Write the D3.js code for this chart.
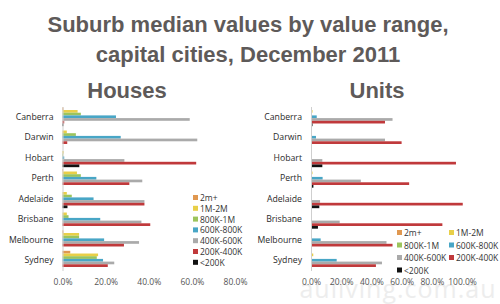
<!DOCTYPE html>
<html>
<head>
<meta charset="utf-8">
<script src="https://cdn.jsdelivr.net/npm/d3@7"></script>
<style>
  body { margin: 0; background: #fff; }
  svg { display: block; }
</style>
</head>
<body>
<div id="chart"></div>
<script>
// Categories and series
const cities = ["Canberra", "Darwin", "Hobart", "Perth", "Adelaide", "Brisbane", "Melbourne", "Sydney"];
const ranges = ["2m+", "1M-2M", "800K-1M", "600K-800K", "400K-600K", "200K-400K", "<200K"];
const rangeColors = ["#e09850", "#e8cf48", "#9cc45c", "#48a6c6", "#aaaaaa", "#c0393b", "#111111"];

// Houses, % of suburbs per range (city order as above)
const houses2mPlus = [0.4, 0, 0, 0.3, 0, 0, 0.4, 3.6];
const houses1m2m = [7.0, 2.0, 0.5, 6.7, 2.0, 2.0, 7.7, 16.5];
const houses800k1m = [8.5, 6.2, 0.3, 8.5, 4.3, 2.8, 7.7, 15.9];
const houses600k800k = [24.8, 27.0, 0.8, 15.7, 14.4, 17.5, 19.3, 18.8];
const houses400k600k = [59.0, 62.5, 28.7, 37.0, 38.0, 36.6, 35.5, 24.0];
const houses200k400k = [0.8, 2.2, 62.0, 31.0, 38.0, 40.7, 28.5, 21.0];
const housesUnder200k = [0.4, 0, 7.8, 0, 2.3, 0, 0, 0];

// Units
const units2mPlus = [0, 0, 0, 0, 0, 0, 0, 0];
const units1m2m = [1.0, 0, 0, 1.0, 0, 0, 0, 1.5];
const units800k1m = [0.3, 0, 0, 0.3, 0, 0, 0, 0.5];
const units600k800k = [3.8, 3.3, 0, 7.7, 0, 0, 6.4, 17.0];
const units400k600k = [54.0, 49.0, 7.5, 33.0, 6.0, 19.0, 50.0, 47.0];
const units200k400k = [49.0, 60.0, 96.0, 65.0, 100.5, 87.0, 54.0, 43.0];
const unitsUnder200k = [1.0, 0, 7.5, 1.6, 5.5, 4.6, 0, 0];

const housesTicks = [0, 20, 40, 60, 80];
const unitsTicks = [0, 20, 40, 60, 80, 100];

const housesSeries = [houses2mPlus, houses1m2m, houses800k1m, houses600k800k, houses400k600k, houses200k400k, housesUnder200k];
const unitsSeries = [units2mPlus, units1m2m, units800k1m, units600k800k, units400k600k, units200k400k, unitsUnder200k];

const width = 500, height = 304;
const svg = d3.select("#chart").append("svg")
    .attr("width", width)
    .attr("height", height);

// Watermark
svg.append("text")
    .attr("x", 398).attr("y", 298)
    .attr("text-anchor", "middle")
    .style("font-family", "'Open Sans', sans-serif")
    .style("font-size", "25px")
    .style("letter-spacing", "1px")
    .attr("fill", "#ededed")
    .text("auliving.com.au");

// Titles
const title = svg.append("text")
    .attr("text-anchor", "middle")
    .style("font-family", "'Liberation Sans', Arial, sans-serif")
    .style("font-weight", "bold")
    .style("font-size", "22px")
    .attr("fill", "#5e5a59");
title.append("tspan").attr("x", 248).attr("y", 32).text("Suburb median values by value range,");
title.append("tspan").attr("x", 248).attr("y", 62).text("capital cities, December 2011");

function drawPanel(cfg) {
    const y = d3.scaleBand()
        .domain(cities)
        .range([106.5, 270.5])
        .paddingInner(0.08)
        .paddingOuter(0.04);
    const yInner = d3.scaleBand()
        .domain(ranges)
        .range([0, y.bandwidth()]);
    const x = d3.scaleLinear()
        .domain([0, cfg.max])
        .range([cfg.x0, cfg.x1]);

    const g = svg.append("g");

    // Panel subtitle
    g.append("text")
        .attr("x", cfg.titleX).attr("y", 98)
        .attr("text-anchor", "middle")
        .style("font-family", "'Liberation Sans', Arial, sans-serif")
        .style("font-weight", "bold")
        .style("font-size", "22px")
        .attr("fill", "#5e5a59")
        .text(cfg.title);

    // Bars
    ranges.forEach((r, i) => {
        g.selectAll(null)
            .data(cfg.series[i].map((v, j) => ({ city: cities[j], v })))
            .join("rect")
            .attr("x", x(0))
            .attr("y", d => y(d.city) + yInner(r))
            .attr("width", d => x(d.v) - x(0))
            .attr("height", yInner.bandwidth())
            .attr("fill", rangeColors[i]);
    });

    // Category axis
    const yAxis = g.append("g")
        .attr("transform", `translate(${x(0)},0)`)
        .call(d3.axisLeft(y).tickSize(0).tickPadding(9));
    yAxis.select(".domain").attr("stroke", "#cfcfcf");
    yAxis.selectAll("text")
        .style("font-family", "'Open Sans', sans-serif")
        .style("font-size", "8.7px")
        .attr("fill", "#2a2a2a");

    // Value axis labels
    const xAxis = g.append("g")
        .attr("transform", "translate(0,272)")
        .call(d3.axisBottom(x).tickValues(cfg.ticks).tickSize(0).tickPadding(7)
            .tickFormat(d => d.toFixed(1) + "%"));
    xAxis.select(".domain").remove();
    xAxis.selectAll("text")
        .style("font-family", "'Open Sans', sans-serif")
        .style("font-size", "8.5px")
        .attr("fill", "#555");

    // Legend
    const leg = g.append("g");
    ranges.forEach((r, i) => {
        const lx = cfg.legX[i], ly = cfg.legY[i];
        leg.append("rect")
            .attr("x", lx).attr("y", ly - 3)
            .attr("width", 5).attr("height", 5)
            .attr("fill", rangeColors[i]);
        leg.append("text")
            .attr("x", lx + 7).attr("y", ly + 3)
            .style("font-family", "'Open Sans', sans-serif")
            .style("font-size", "8.5px")
            .attr("fill", "#333")
            .text(r);
    });
}

drawPanel({
    title: "Houses", titleX: 127,
    series: housesSeries, max: 80, ticks: housesTicks,
    x0: 62.5, x1: 235,
    legX: ranges.map(() => 193),
    legY: ranges.map((r, i) => 198 + i * 10.8)
});

drawPanel({
    title: "Units", titleX: 377,
    series: unitsSeries, max: 100, ticks: unitsTicks,
    x0: 311, x1: 462,
    legX: ranges.map((r, i) => i % 2 === 0 ? 397 : 449),
    legY: ranges.map((r, i) => 233 + Math.floor(i / 2) * 12.5)
});
</script>
</body>
</html>
